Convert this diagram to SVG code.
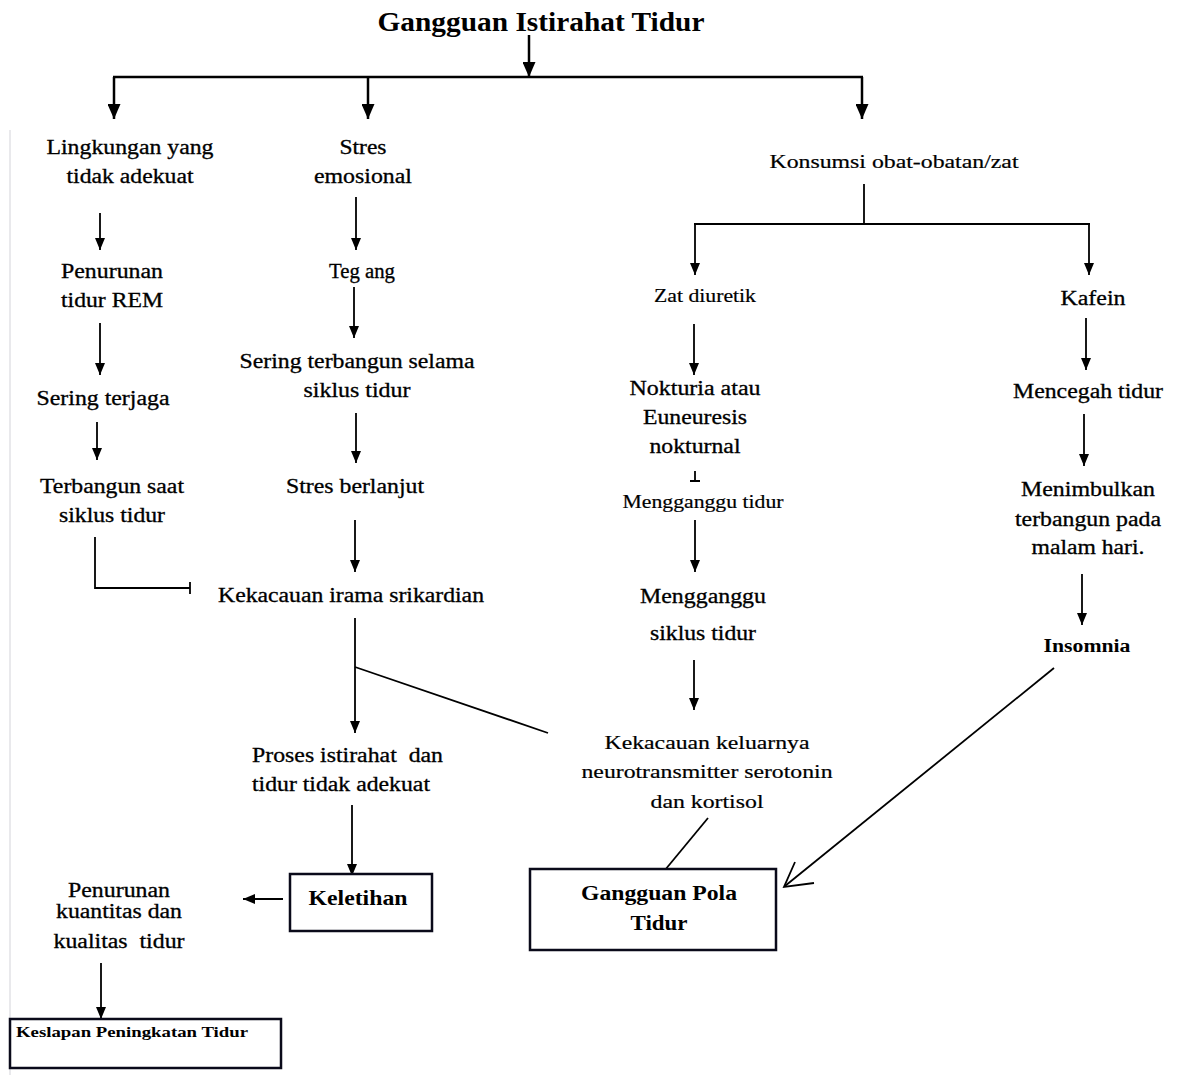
<svg xmlns="http://www.w3.org/2000/svg" width="1179" height="1075" viewBox="0 0 1179 1075" font-family="'Liberation Serif', 'Times New Roman', Times, serif">
<style>
text{font-family:'Liberation Serif','Times New Roman',Times,serif;fill:#000}
.t{font-size:20px;text-anchor:middle;stroke:#000;stroke-width:0.3}
.s{font-size:19px;text-anchor:middle;stroke:#000;stroke-width:0.2}
.b{font-weight:bold;text-anchor:middle}
.ln{stroke:#000;stroke-width:1.8;fill:none}
.lt{stroke:#000;stroke-width:2.5;fill:none}
.box{fill:#fff;stroke:#0a0a1a;stroke-width:2.5}
</style>
<defs>
<marker id="ah" markerUnits="userSpaceOnUse" viewBox="0 0 12 10" refX="12" refY="5" markerWidth="12" markerHeight="10" orient="auto"><path d="M0,0 L12,5 L0,10 z" fill="#000"/></marker>
<marker id="ahb" markerUnits="userSpaceOnUse" viewBox="0 0 15 13" refX="15" refY="6.5" markerWidth="15" markerHeight="13" orient="auto"><path d="M0,0 L15,6.5 L0,13 z" fill="#000"/></marker>
</defs>
<rect width="1179" height="1075" fill="#fff"/>
<line x1="10" y1="130" x2="10" y2="1075" stroke="#e2e2e6" stroke-width="1.5"/>

<g id="connectors">
<line class="lt" x1="529" y1="35" x2="529" y2="77" marker-end="url(#ahb)"/>
<line class="lt" x1="113" y1="77" x2="863" y2="77"/>
<line class="lt" x1="114" y1="77" x2="114" y2="119" marker-end="url(#ahb)"/>
<line class="lt" x1="368" y1="77" x2="368" y2="119" marker-end="url(#ahb)"/>
<line class="lt" x1="862" y1="77" x2="862" y2="119" marker-end="url(#ahb)"/>

<line class="ln" x1="100" y1="213" x2="100" y2="250" marker-end="url(#ah)"/>
<line class="ln" x1="100" y1="323" x2="100" y2="375" marker-end="url(#ah)"/>
<line class="ln" x1="97" y1="422" x2="97" y2="460" marker-end="url(#ah)"/>
<path class="ln" d="M95,537 V588 H190"/>
<path class="ln" d="M190,582 V594"/>

<line class="ln" x1="356" y1="197" x2="356" y2="250" marker-end="url(#ah)"/>
<line class="ln" x1="354" y1="287" x2="354" y2="338" marker-end="url(#ah)"/>
<line class="ln" x1="356" y1="413" x2="356" y2="463" marker-end="url(#ah)"/>
<line class="ln" x1="355" y1="520" x2="355" y2="572" marker-end="url(#ah)"/>
<line class="ln" x1="355" y1="618" x2="355" y2="733" marker-end="url(#ah)"/>
<line class="ln" x1="355" y1="667" x2="548" y2="733"/>
<line class="ln" x1="352" y1="805" x2="352" y2="876" marker-end="url(#ah)"/>
<line class="ln" x1="283" y1="899" x2="243" y2="899" stroke="#444" marker-end="url(#ah)"/>
<line class="ln" x1="101" y1="963" x2="101" y2="1019" marker-end="url(#ah)"/>

<line class="ln" x1="864" y1="184" x2="864" y2="224"/>
<line class="ln" x1="694" y1="224" x2="1090" y2="224"/>
<line class="ln" x1="695" y1="224" x2="695" y2="275" marker-end="url(#ah)"/>
<line class="ln" x1="1089" y1="224" x2="1089" y2="275" marker-end="url(#ah)"/>
<line class="ln" x1="694" y1="324" x2="694" y2="375" marker-end="url(#ah)"/>
<path class="ln" d="M695,471 V481 M690,481 H700"/>
<line class="ln" x1="695" y1="520" x2="695" y2="572" marker-end="url(#ah)"/>
<line class="ln" x1="694" y1="660" x2="694" y2="710" marker-end="url(#ah)"/>
<line class="ln" x1="708" y1="818" x2="665" y2="870"/>
<line class="ln" x1="1054" y1="668" x2="785" y2="886"/>
<path class="ln" d="M795,862 L784,887 L814,883"/>

<line class="ln" x1="1086" y1="318" x2="1086" y2="370" marker-end="url(#ah)"/>
<line class="ln" x1="1084" y1="414" x2="1084" y2="466" marker-end="url(#ah)"/>
<line class="ln" x1="1082" y1="574" x2="1082" y2="625" marker-end="url(#ah)"/>
</g>

<g id="title"><text class="b" x="541" y="31" font-size="27" textLength="327" lengthAdjust="spacingAndGlyphs">Gangguan Istirahat Tidur</text></g>

<g id="lingkungan"><text class="t" x="130" y="154" textLength="167" lengthAdjust="spacingAndGlyphs">Lingkungan yang</text><text class="t" x="130" y="183" textLength="127" lengthAdjust="spacingAndGlyphs">tidak adekuat</text></g>
<g id="penurunan-rem"><text class="t" x="112" y="278" textLength="102" lengthAdjust="spacingAndGlyphs">Penurunan</text><text class="t" x="112" y="307" textLength="102" lengthAdjust="spacingAndGlyphs">tidur REM</text></g>
<g id="sering-terjaga"><text class="t" x="103" y="405" textLength="133" lengthAdjust="spacingAndGlyphs">Sering terjaga</text></g>
<g id="terbangun-saat"><text class="t" x="112" y="493" textLength="144" lengthAdjust="spacingAndGlyphs">Terbangun saat</text><text class="t" x="112" y="522" textLength="106" lengthAdjust="spacingAndGlyphs">siklus tidur</text></g>

<g id="stres-emosional"><text class="t" x="363" y="154" textLength="47" lengthAdjust="spacingAndGlyphs">Stres</text><text class="t" x="363" y="183" textLength="98" lengthAdjust="spacingAndGlyphs">emosional</text></g>
<g id="tegang"><text class="t" x="362" y="278" textLength="66" lengthAdjust="spacingAndGlyphs">Teg ang</text></g>
<g id="sering-terbangun"><text class="t" x="357" y="368" textLength="235" lengthAdjust="spacingAndGlyphs">Sering terbangun selama</text><text class="t" x="357" y="397" textLength="107" lengthAdjust="spacingAndGlyphs">siklus tidur</text></g>
<g id="stres-berlanjut"><text class="t" x="355" y="493" textLength="138" lengthAdjust="spacingAndGlyphs">Stres berlanjut</text></g>
<g id="kekacauan-irama"><text class="t" x="351" y="602" textLength="266" lengthAdjust="spacingAndGlyphs">Kekacauan irama srikardian</text></g>
<g id="proses-istirahat"><text class="t" x="252" y="762" style="text-anchor:start" textLength="191" lengthAdjust="spacingAndGlyphs" xml:space="preserve">Proses istirahat  dan</text><text class="t" x="252" y="791" style="text-anchor:start" textLength="178" lengthAdjust="spacingAndGlyphs">tidur tidak adekuat</text></g>
<g id="keletihan"><rect class="box" x="290" y="874" width="142" height="57"/><text class="b" x="358" y="905" font-size="21" textLength="99" lengthAdjust="spacingAndGlyphs">Keletihan</text></g>
<g id="penurunan-kuantitas"><text class="t" x="119" y="897" textLength="102" lengthAdjust="spacingAndGlyphs">Penurunan</text><text class="t" x="119" y="918" textLength="126" lengthAdjust="spacingAndGlyphs">kuantitas dan</text><text class="t" x="119" y="948" textLength="131" lengthAdjust="spacingAndGlyphs" xml:space="preserve">kualitas  tidur</text></g>
<g id="keslapan"><rect class="box" x="10" y="1019" width="271" height="49"/><text class="b" x="16" y="1037" font-size="15" style="text-anchor:start" textLength="232" lengthAdjust="spacingAndGlyphs">Keslapan Peningkatan Tidur</text></g>

<g id="konsumsi"><text class="s" x="894" y="168" textLength="249" lengthAdjust="spacingAndGlyphs">Konsumsi obat-obatan/zat</text></g>
<g id="zat-diuretik"><text class="s" x="705" y="302" font-size="18" textLength="102" lengthAdjust="spacingAndGlyphs">Zat diuretik</text></g>
<g id="nokturia"><text class="t" x="695" y="395" textLength="131" lengthAdjust="spacingAndGlyphs">Nokturia atau</text><text class="t" x="695" y="424" textLength="104" lengthAdjust="spacingAndGlyphs">Euneuresis</text><text class="t" x="695" y="453" textLength="91" lengthAdjust="spacingAndGlyphs">nokturnal</text></g>
<g id="mengganggu-tidur"><text class="s" x="703" y="508" font-size="18" textLength="161" lengthAdjust="spacingAndGlyphs">Mengganggu tidur</text></g>
<g id="mengganggu-siklus"><text class="t" x="703" y="603" textLength="126" lengthAdjust="spacingAndGlyphs">Mengganggu</text><text class="t" x="703" y="640" textLength="106" lengthAdjust="spacingAndGlyphs">siklus tidur</text></g>
<g id="kekacauan-neuro"><text class="s" x="707" y="749" textLength="205" lengthAdjust="spacingAndGlyphs">Kekacauan keluarnya</text><text class="s" x="707" y="778" textLength="251" lengthAdjust="spacingAndGlyphs">neurotransmitter serotonin</text><text class="s" x="707" y="808" textLength="113" lengthAdjust="spacingAndGlyphs">dan kortisol</text></g>
<g id="gangguan-pola"><rect class="box" x="530" y="869" width="246" height="81"/><text class="b" x="659" y="900" font-size="20" textLength="156" lengthAdjust="spacingAndGlyphs">Gangguan Pola</text><text class="b" x="659" y="930" font-size="20" textLength="57" lengthAdjust="spacingAndGlyphs">Tidur</text></g>

<g id="kafein"><text class="t" x="1093" y="305" textLength="65" lengthAdjust="spacingAndGlyphs">Kafein</text></g>
<g id="mencegah"><text class="t" x="1088" y="398" textLength="150" lengthAdjust="spacingAndGlyphs">Mencegah tidur</text></g>
<g id="menimbulkan"><text class="t" x="1088" y="496" textLength="134" lengthAdjust="spacingAndGlyphs">Menimbulkan</text><text class="t" x="1088" y="526" textLength="146" lengthAdjust="spacingAndGlyphs">terbangun pada</text><text class="t" x="1088" y="554" textLength="113" lengthAdjust="spacingAndGlyphs">malam hari.</text></g>
<g id="insomnia"><text class="b" x="1087" y="652" font-size="18" textLength="87" lengthAdjust="spacingAndGlyphs">Insomnia</text></g>
</svg>
